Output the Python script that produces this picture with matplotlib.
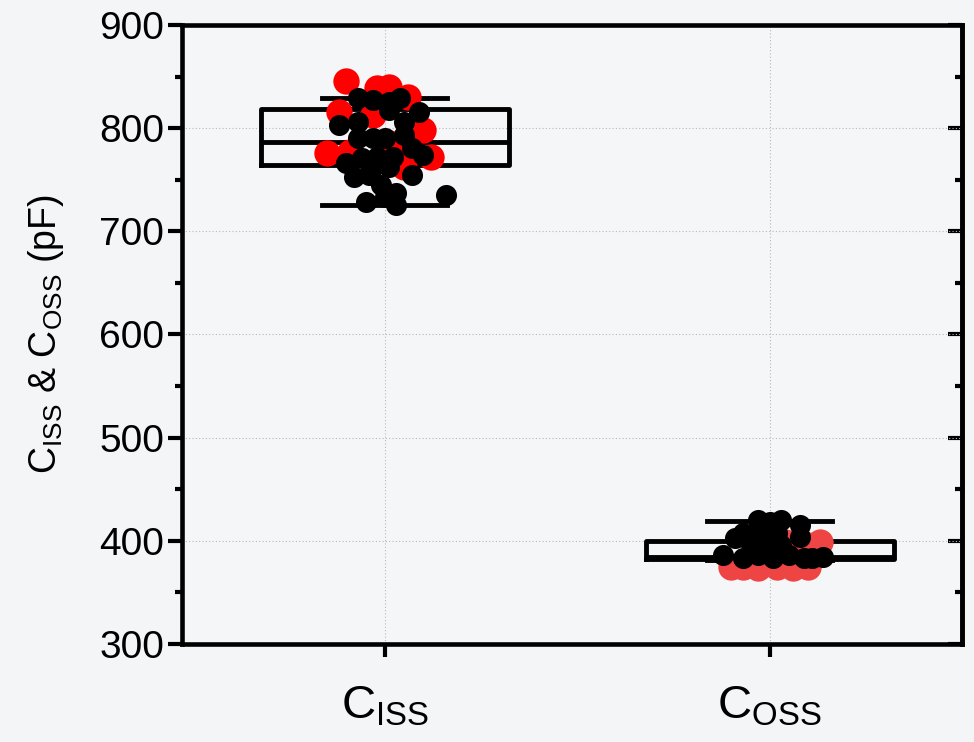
import matplotlib
matplotlib.use('Agg')
import matplotlib.pyplot as plt
import numpy as np

plt.rcParams['font.family'] = ['Liberation Sans', 'DejaVu Sans']
plt.rcParams['mathtext.fontset'] = 'custom'
plt.rcParams['mathtext.rm'] = 'Liberation Sans'

categories = [r'C$_{\mathrm{ISS}}$', r'C$_{\mathrm{OSS}}$']

ciss_red_dx = [-0.10, -0.02, 0.01, 0.06, -0.12, 0.10, -0.15, -0.09, -0.03, 0.12, 0.05, 0.04, 0.01]
ciss_red = [846, 839, 840, 830, 816, 798, 776, 777, 813, 772, 762, 779, 786]
ciss_black_dx = [-0.07, -0.03, 0.01, 0.04, 0.01, 0.09, -0.12, -0.07, 0.05, 0.05, -0.07, -0.03,
                 0.00, 0.07, 0.10, -0.10, -0.06, -0.02, 0.02, -0.03, 0.01, -0.08, -0.04, 0.07,
                 -0.01, 0.03, 0.00, 0.16, -0.05, 0.03]
ciss_black = [829, 827, 825, 829, 818, 816, 803, 806, 806, 793, 790, 790,
              790, 781, 774, 766, 771, 772, 772, 762, 762, 753, 755, 755,
              745, 737, 733, 735, 728, 726]

coss_red_dx = [-0.10, -0.07, -0.03, 0.02, 0.04, 0.10, 0.13, 0.10, 0.06, 0.12, 0.10]
coss_red = [375, 375, 374, 375, 399, 396, 399, 375, 374, 396, 377]
coss_black_dx = [-0.03, 0.00, 0.03, 0.08, -0.07, -0.03, 0.02, 0.08, -0.09, -0.05, -0.01, 0.03,
                 -0.12, -0.07, -0.03, 0.01, 0.05, 0.09, 0.11, 0.14]
coss_black = [420, 418, 420, 415, 408, 407, 408, 404, 403, 399, 398, 396,
              386, 383, 386, 383, 386, 383, 383, 384]

# box statistics
box_q1 = [764.5, 382.5]
box_med = [787, 384.5]
box_q3 = [819, 400]
whisk_lo = [726, 381]
whisk_hi = [829, 419.5]

fig = plt.figure(figsize=(9.74, 7.42), dpi=100)
fig.patch.set_facecolor('#f4f5f7')
ax = fig.add_axes([0.1869, 0.1321, 0.8008, 0.8342])
ax.set_facecolor('#f5f6f8')

ax.scatter(1 + np.array(ciss_red_dx), ciss_red, s=360, color='#ff0000', zorder=3, linewidths=0)
ax.scatter(2 + np.array(coss_red_dx), coss_red, s=360, color='#ef4444', zorder=3, linewidths=0)
ax.scatter(1 + np.array(ciss_black_dx), ciss_black, s=230, color='black', zorder=4, linewidths=0)
ax.scatter(2 + np.array(coss_black_dx), coss_black, s=230, color='black', zorder=4, linewidths=0)

stats = []
for i in range(2):
    stats.append({'q1': box_q1[i], 'med': box_med[i], 'q3': box_q3[i],
                  'whislo': whisk_lo[i], 'whishi': whisk_hi[i], 'fliers': []})
lw = 3.5
ax.bxp(stats, positions=[1, 2], widths=0.645, showfliers=False,
       boxprops=dict(linewidth=lw, color='black'),
       medianprops=dict(linewidth=lw, color='black'),
       whiskerprops=dict(linewidth=0),
       capprops=dict(linewidth=lw, color='black'),
       capwidths=0.325, manage_ticks=False, zorder=2)

ax.set_xlim(0.473, 2.5)
ax.set_ylim(300, 900)
ax.set_xticks([1, 2])
ax.set_xticklabels(categories, fontsize=34)
ax.set_yticks(np.arange(300, 901, 100))
ax.set_yticks(np.arange(350, 900, 100), minor=True)
ax.tick_params(axis='y', which='major', labelsize=28, length=10, width=3, direction='out', pad=3)
ax.tick_params(axis='y', which='minor', length=5, width=3, direction='out')
ax.tick_params(axis='x', which='major', length=9, width=3, direction='out', pad=20)
ax.grid(True, which='major', linestyle=(0, (1, 2)), linewidth=0.8, color='#b8b8b8')
ax.set_axisbelow(True)
for sp in ax.spines.values():
    sp.set_linewidth(3.3)

# inward ticks on the right frame
sec = ax.secondary_yaxis('right')
sec.set_yticks(np.arange(300, 901, 100))
sec.set_yticks(np.arange(350, 900, 100), minor=True)
sec.tick_params(which='major', direction='in', length=10, width=3, labelright=False)
sec.tick_params(which='minor', direction='in', length=5, width=3, labelright=False)
sec.spines['right'].set_linewidth(3.3)

ax.set_ylabel(r'C$_{\mathrm{ISS}}$ & C$_{\mathrm{OSS}}$ (pF)', fontsize=27, labelpad=24)

fig.savefig('out.png', dpi=100, facecolor=fig.get_facecolor())
